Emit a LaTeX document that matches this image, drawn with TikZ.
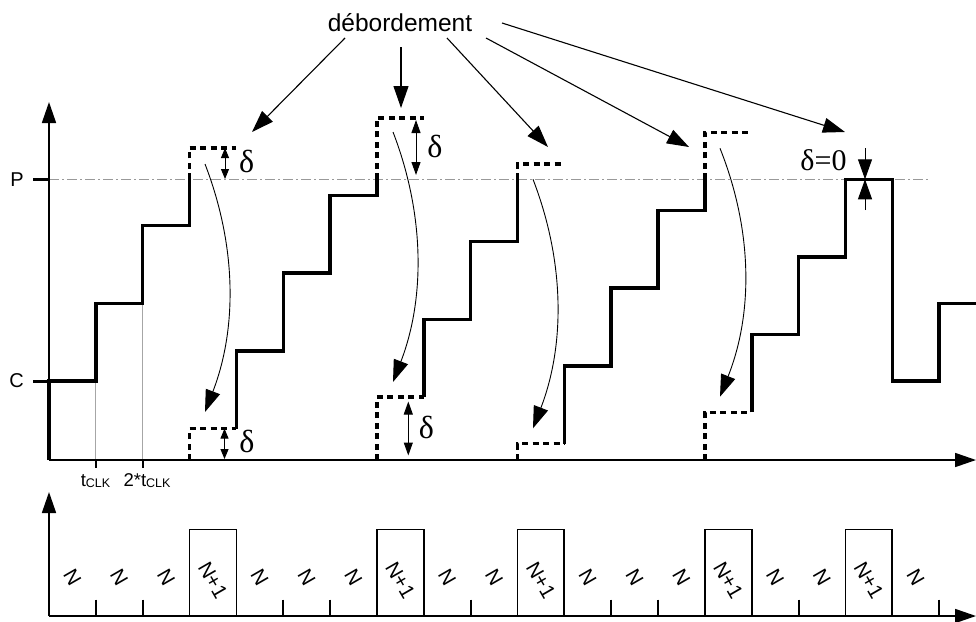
\documentclass[tikz,border=0pt]{standalone}
\usepackage{fontspec}
\setmainfont{Liberation Sans}
\newfontfamily\serifgr{Liberation Serif}
\usetikzlibrary{arrows.meta}
\begin{document}
\begin{tikzpicture}[x=1pt,y=-1pt,
  stairline/.style={line width=3.5pt},
  ovfline/.style={line width=3.5pt, dash pattern=on 6pt off 4.5pt},
  axisarr/.style={line width=1.7pt, -{Triangle[length=21pt,width=14pt]}},
  bigarr/.style={line width=1.1pt, -{Triangle[length=22pt,width=15pt]}},
  curvarr/.style={line width=0.9pt, -{Triangle[length=22pt,width=15pt]}},
  darrsmall/.style={line width=1pt, {Triangle[length=10pt,width=8pt]}-{Triangle[length=10pt,width=8pt]}},
  darrbig/.style={line width=1pt, {Triangle[length=13pt,width=9pt]}-{Triangle[length=13pt,width=9pt]}},
  zeroarr/.style={line width=1pt, -{Triangle[length=20pt,width=14pt]}},
  gridline/.style={line width=0.8pt, draw=black!35},
  tickline/.style={line width=1.8pt},
  boxline/.style={line width=1.8pt},
  pline/.style={line width=0.9pt, draw=black!40, dash pattern=on 10pt off 3pt on 2pt off 3pt},
  nlab/.style={font=\fontsize{20.5}{22}\selectfont, rotate=-60, inner sep=0pt},
  dlab/.style={font=\serifgr\fontsize{32}{36}\selectfont, inner sep=0pt},
  axlab/.style={font=\fontsize{20}{22}\selectfont, inner sep=0pt},
  tlab/.style={font=\fontsize{18.5}{22}\selectfont, inner sep=0pt, anchor=base}
]
\useasboundingbox (0,0) rectangle (976,621);

% ---------- upper plot ----------
\draw[pline] (49,179.3) -- (928,179.3);
\draw[gridline] (95.85,381) -- (95.85,460);
\draw[gridline] (142.7,303.3) -- (142.7,460);

\coordinate (uo) at (49,460);
\coordinate (uy) at (49,102);
\coordinate (ux) at (976,460);
\draw[axisarr] (uo) -- (uy);
\draw[axisarr] (uo) -- (ux);
\draw[tickline] (95.85,460) -- (95.85,468);
\draw[tickline] (142.7,460) -- (142.7,468);

\draw[line width=3pt] (33,179.3) -- (49,179.3);
\draw[line width=3pt] (33,381) -- (49,381);
\node[axlab] (lp) at (17,179.5) {P};
\node[axlab] (lc) at (16.5,381) {C};

\node[tlab] (t1) at (95.5,486) {t\raisebox{-1.5pt}{\fontsize{12.5}{14}\selectfont CLK}};
\node[tlab] (t2) at (147,486) {2*t\raisebox{-1.5pt}{\fontsize{12.5}{14}\selectfont CLK}};

% staircases
\draw[stairline] (49,460)--(49,381)--(95.85,381)--(95.85,303.3)--(142.7,303.3)--(142.7,225.6)--(189.55,225.6)--(189.55,179.3);
\draw[ovfline] (189.55,179.3)--(189.55,147.9)--(236.4,147.9);
\draw[ovfline] (189.55,460)--(189.55,428.6)--(236.4,428.6);
\draw[stairline] (236.4,428.6)--(236.4,350.9)--(283.25,350.9)--(283.25,273.2)--(330.1,273.2)--(330.1,195.5)--(376.95,195.5)--(376.95,179.3);
\draw[ovfline] (376.95,179.3)--(376.95,117.8)--(423.8,117.8);
\draw[ovfline] (376.95,460)--(376.95,397)--(423.8,397);
\draw[stairline] (423.8,397)--(423.8,319.3)--(470.65,319.3)--(470.65,241.6)--(517.5,241.6)--(517.5,179.3);
\draw[ovfline] (517.5,179.3)--(517.5,163.9)--(564.35,163.9);
\draw[ovfline] (517.5,460)--(517.5,443.5)--(564.35,443.5);
\draw[stairline] (564.35,443.5)--(564.35,365.8)--(611.2,365.8)--(611.2,288.1)--(658.05,288.1)--(658.05,210.4)--(704.9,210.4)--(704.9,179.3);
\draw[ovfline] (704.9,179.3)--(704.9,132.7)--(751.75,132.7);
\draw[ovfline] (704.9,460)--(704.9,412.4)--(751.75,412.4);
\draw[stairline] (751.75,412.4)--(751.75,334.7)--(798.6,334.7)--(798.6,257)--(845.45,257)--(845.45,179.3)--(892.3,179.3)--(892.3,381)--(939.15,381)--(939.15,303.3)--(980,303.3);

% delta arrows and labels
\coordinate (d1a) at (225,148); \coordinate (d1b) at (225,179);
\draw[darrsmall] (d1a) -- (d1b);
\node[dlab] (dl1) at (246.7,161.7) {δ};
\coordinate (d2a) at (224.5,428.6); \coordinate (d2b) at (224.5,459);
\draw[darrsmall] (d2a) -- (d2b);
\node[dlab] (dl2) at (247,441.5) {δ};
\coordinate (d3a) at (416,120); \coordinate (d3b) at (416,175);
\draw[darrbig] (d3a) -- (d3b);
\node[dlab] (dl3) at (435,146.7) {δ};
\coordinate (d4a) at (408.3,401.5); \coordinate (d4b) at (408.3,455.5);
\draw[darrbig] (d4a) -- (d4b);
\node[dlab] (dl4) at (426.3,427) {δ};
\coordinate (z0) at (865,179.3);
\coordinate (za) at (865,148); \coordinate (zb) at (865,210);
\draw[zeroarr] (za) -- (z0);
\draw[zeroarr] (zb) -- (z0);
\node[dlab, font=\serifgr\fontsize{30}{34}\selectfont] (dl5) at (823.5,160) {δ=0};

% curved arrows
\coordinate (c1s) at (205,164);   \coordinate (c1e) at (205,412);
\coordinate (c2s) at (393,132);   \coordinate (c2e) at (393,382);
\coordinate (c3s) at (533,179.3); \coordinate (c3e) at (533,428.3);
\coordinate (c4s) at (720,148.3); \coordinate (c4e) at (720,396.7);
\draw[curvarr] (c1s) .. controls +(32,83) and +(32,-83) .. (c1e);
\draw[curvarr] (c2s) .. controls +(32,83) and +(32,-83) .. (c2e);
\draw[curvarr] (c3s) .. controls +(32,83) and +(32,-83) .. (c3e);
\draw[curvarr] (c4s) .. controls +(33,83) and +(33,-83) .. (c4e);

% debordement
\node[font=\fontsize{24.5}{29}\selectfont, anchor=base, inner sep=0pt] (deb) at (400,31.7) {débordement};
\coordinate (a1s) at (345,38);  \coordinate (a1e) at (252,132);
\coordinate (a2s) at (401,47);  \coordinate (a2e) at (401,108);
\coordinate (a3s) at (447,38);  \coordinate (a3e) at (548,147);
\coordinate (a4s) at (486,38);  \coordinate (a4e) at (689,147);
\coordinate (a5s) at (502,23);  \coordinate (a5e) at (845,132);
\draw[bigarr] (a1s) -- (a1e);
\draw[bigarr] (a2s) -- (a2e);
\draw[bigarr] (a3s) -- (a3e);
\draw[bigarr] (a4s) -- (a4e);
\draw[bigarr] (a5s) -- (a5e);

% ---------- lower plot ----------
\coordinate (lo) at (49,616);
\coordinate (ly) at (49,492);
\coordinate (lx) at (976,616);
\draw[axisarr] (lo) -- (ly);
\draw[axisarr] (lo) -- (lx);
\foreach \xx in {95.85,142.7,283.25,330.1,470.65,611.2,658.05,798.6,939.15}
  \draw[tickline] (\xx,599.5) -- (\xx,616);
\foreach \xa/\xb in {189.55/236.4,376.95/423.8,517.5/564.35,704.9/751.75,845.45/892.3}
  \draw[boxline] (\xa,616) -- (\xa,529.5) -- (\xb,529.5) -- (\xb,616);
\foreach \k in {0,1,2,4,5,6,8,9,11,12,13,15,16,18}
  \node[nlab] (n\k) at ({49+46.85*\k+23.4},577) {N};
\foreach \k in {3,7,10,14,17}
  \node[nlab] (m\k) at ({49+46.85*\k+23.4},580) {N+1};
\end{tikzpicture}
\end{document}
